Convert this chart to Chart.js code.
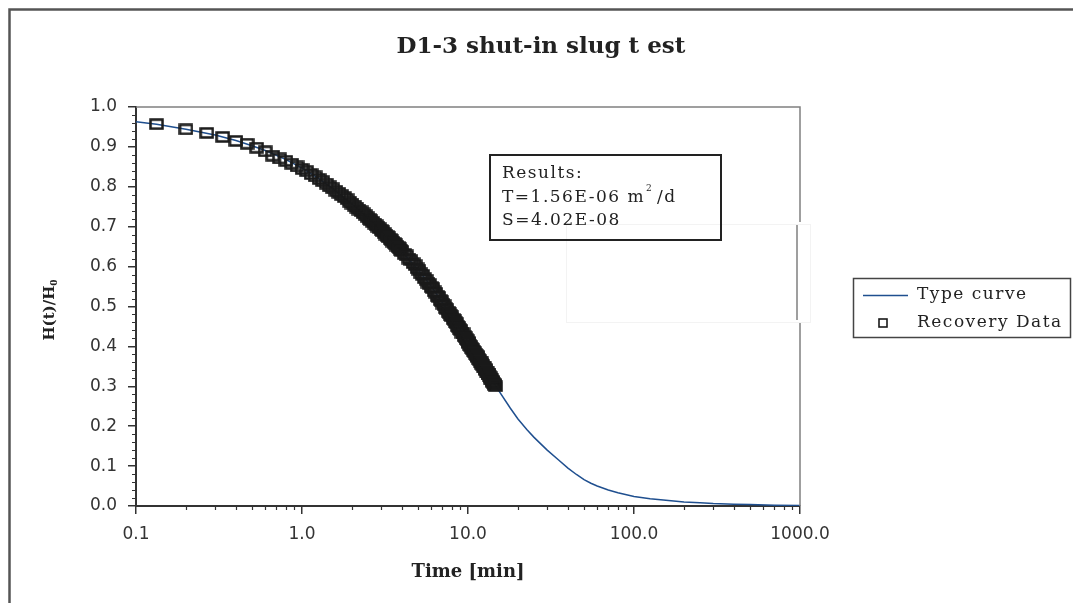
<!DOCTYPE html>
<html>
<head>
<meta charset="utf-8">
<script src="https://cdn.jsdelivr.net/npm/chart.js@4.4.0/dist/chart.umd.min.js"></script>
<style>
  body { margin: 0; background: #fff; }
  #wrap { width: 1073px; height: 603px; }
</style>
</head>
<body>
<div id="wrap"><canvas id="slugChart" width="1073" height="603"></canvas></div>
<script>
// slug test chart
const chartTitle = 'D1-3 shut-in slug t est';

// type curve (min, H/H0)
const curveTime = [0.1, 0.133, 0.2, 0.3, 0.4, 0.5, 0.6, 0.7, 0.8, 1, 1.25, 1.5, 2, 2.5, 3, 3.5, 4, 5, 6, 7, 8, 9, 10, 11, 12, 13, 14, 15, 18, 20, 22.6, 25, 30, 35, 40, 45, 50, 55, 60, 70, 80, 100, 125, 150, 200, 250, 300, 400, 500, 700, 1000];
const curveValue = [0.963, 0.957, 0.944, 0.93, 0.916, 0.903, 0.891, 0.879, 0.868, 0.847, 0.822, 0.798, 0.757, 0.722, 0.692, 0.664, 0.638, 0.592, 0.551, 0.51, 0.475, 0.442, 0.412, 0.385, 0.36, 0.337, 0.315, 0.295, 0.245, 0.218, 0.192, 0.172, 0.14, 0.116, 0.095, 0.079, 0.066, 0.057, 0.05, 0.04, 0.033, 0.024, 0.018, 0.015, 0.01, 0.008, 0.006, 0.0045, 0.0035, 0.002, 0.001];

// recovery data
const dataTime = [
  0.133, 0.2, 0.267, 0.333, 0.4, 0.467, 0.533, 0.6, 0.667, 0.733,
  0.8, 0.867, 0.933, 1.0, 1.067, 1.133, 1.2, 1.267, 1.333, 1.4,
  1.467, 1.533, 1.6, 1.667, 1.733, 1.8, 1.867, 1.933, 2.0, 2.067,
  2.133, 2.2, 2.267, 2.333, 2.4, 2.467, 2.533, 2.6, 2.667, 2.733,
  2.8, 2.867, 2.933, 3.0, 3.067, 3.133, 3.2, 3.267, 3.333, 3.4,
  3.467, 3.533, 3.6, 3.667, 3.733, 3.8, 3.867, 3.933, 4.0, 4.133,
  4.267, 4.4, 4.533, 4.667, 4.8, 4.933, 5.067, 5.2, 5.333, 5.467,
  5.6, 5.733, 5.867, 6.0, 6.133, 6.267, 6.4, 6.533, 6.667, 6.8,
  6.933, 7.067, 7.2, 7.333, 7.467, 7.6, 7.733, 7.867, 8.0, 8.133,
  8.267, 8.4, 8.533, 8.667, 8.8, 8.933, 9.067, 9.2, 9.333, 9.467,
  9.6, 9.733, 9.867, 10.0, 10.133, 10.267, 10.4, 10.533, 10.667, 10.8,
  10.933, 11.067, 11.2, 11.333, 11.467, 11.6, 11.733, 11.867, 12.0, 12.133,
  12.267, 12.4, 12.533, 12.667, 12.8, 12.933, 13.067, 13.2, 13.333, 13.467,
  13.6, 13.733, 13.867, 14.0, 14.133, 14.267, 14.4, 14.533, 14.667
];
const dataValue = [
  0.957, 0.944, 0.935, 0.925, 0.915, 0.908, 0.898, 0.889, 0.878, 0.871,
  0.865, 0.858, 0.851, 0.845, 0.839, 0.832, 0.826, 0.82, 0.814, 0.808,
  0.801, 0.796, 0.79, 0.785, 0.779, 0.774, 0.769, 0.763, 0.758, 0.753,
  0.748, 0.743, 0.739, 0.734, 0.73, 0.725, 0.72, 0.716, 0.712, 0.708,
  0.704, 0.7, 0.696, 0.692, 0.688, 0.684, 0.68, 0.677, 0.673, 0.669,
  0.666, 0.662, 0.659, 0.656, 0.652, 0.649, 0.646, 0.642, 0.639, 0.632,
  0.628, 0.62, 0.616, 0.609, 0.604, 0.596, 0.591, 0.583, 0.579, 0.571,
  0.567, 0.56, 0.556, 0.549, 0.546, 0.538, 0.534, 0.527, 0.524, 0.516,
  0.513, 0.507, 0.503, 0.496, 0.493, 0.487, 0.483, 0.478, 0.475, 0.469,
  0.467, 0.46, 0.458, 0.451, 0.449, 0.443, 0.441, 0.434, 0.433, 0.426,
  0.424, 0.418, 0.416, 0.411, 0.408, 0.403, 0.401, 0.396, 0.393, 0.389,
  0.386, 0.382, 0.379, 0.375, 0.373, 0.368, 0.366, 0.362, 0.36, 0.356,
  0.354, 0.349, 0.348, 0.343, 0.341, 0.337, 0.335, 0.331, 0.33, 0.325,
  0.323, 0.319, 0.318, 0.314, 0.312, 0.308, 0.306, 0.303, 0.3
];

const xTicks = [0.1, 1, 10, 100, 1000];
const yTicks = [0, 0.1, 0.2, 0.3, 0.4, 0.5, 0.6, 0.7, 0.8, 0.9, 1.0];
const resultLines = ['Results:', 'T=1.56E-06 m', 'S=4.02E-08'];
const legendLabels = ['Type curve', 'Recovery Data'];

const lineColor = '#1f4f8f';
const axisColor = '#333';

// open square marker
const square = document.createElement('canvas');
square.width = 15;
square.height = 12;
const sq = square.getContext('2d');
sq.strokeStyle = '#1a1a1a';
sq.lineWidth = 2.5;
sq.strokeRect(1.5, 1.5, 12, 9);

const extras = {
  id: 'extras',
  beforeDraw(chart) {
    const ctx = chart.ctx;
    ctx.save();
    ctx.fillStyle = '#fff';
    ctx.fillRect(0, 0, chart.width, chart.height);
    ctx.restore();
  },
  afterDraw(chart) {
    const ctx = chart.ctx;
    const a = chart.chartArea;
    const xs = chart.scales.x;
    const ys = chart.scales.y;
    ctx.save();

    // outer frame
    ctx.strokeStyle = '#555';
    ctx.lineWidth = 2.5;
    ctx.beginPath();
    ctx.moveTo(9.5, chart.height);
    ctx.lineTo(9.5, 9.5);
    ctx.lineTo(chart.width, 9.5);
    ctx.stroke();

    // title
    ctx.fillStyle = '#222';
    ctx.textAlign = 'center';
    ctx.textBaseline = 'middle';
    ctx.font = 'bold 23px "DejaVu Serif"';
    ctx.fillText(chartTitle, 541, 47);
    ctx.textAlign = 'left';

    // faint patch over the right border
    ctx.fillStyle = '#fff';
    ctx.fillRect(566, 224, 244, 98);
    ctx.strokeStyle = '#f3f3f3';
    ctx.lineWidth = 1;
    ctx.strokeRect(566.5, 224.5, 244, 98);

    // top and right border of plot
    ctx.strokeStyle = '#808080';
    ctx.lineWidth = 1.5;
    ctx.beginPath();
    ctx.moveTo(a.left, a.top);
    ctx.lineTo(a.right, a.top);
    ctx.lineTo(a.right, 222);
    ctx.moveTo(a.right - 3, 225);
    ctx.lineTo(a.right - 3, 320);
    ctx.moveTo(a.right, 323);
    ctx.lineTo(a.right, a.bottom);
    ctx.stroke();

    // minor ticks
    ctx.strokeStyle = axisColor;
    ctx.lineWidth = 1.2;
    ctx.beginPath();
    for (let i = 1; i < 50; i++) {
      if (i % 5 === 0) continue;
      const py = Math.round(ys.getPixelForValue(i / 50)) + 0.5;
      ctx.moveTo(a.left, py);
      ctx.lineTo(a.left - 4, py);
    }
    [0.1, 1, 10, 100].forEach(d => {
      for (let m = 2; m < 10; m++) {
        const px = Math.round(xs.getPixelForValue(d * m)) + 0.5;
        ctx.moveTo(px, a.bottom);
        ctx.lineTo(px, a.bottom + 4);
      }
    });
    ctx.stroke();

    // y axis title H(t)/H0
    ctx.save();
    ctx.translate(50, 310);
    ctx.rotate(-Math.PI / 2);
    ctx.fillStyle = '#222';
    ctx.textBaseline = 'middle';
    ctx.font = 'bold 15px "DejaVu Serif"';
    const w1 = ctx.measureText('H(t)/H').width;
    ctx.font = 'bold 9px "DejaVu Serif"';
    const w2 = ctx.measureText('0').width;
    const start = -(w1 + w2) / 2;
    ctx.font = 'bold 15px "DejaVu Serif"';
    ctx.fillText('H(t)/H', start, 0);
    ctx.font = 'bold 9px "DejaVu Serif"';
    ctx.fillText('0', start + w1, 5);
    ctx.restore();

    // results box
    ctx.strokeStyle = '#222';
    ctx.lineWidth = 2;
    ctx.strokeRect(490, 155, 231, 85);
    ctx.fillStyle = '#222';
    ctx.textBaseline = 'middle';
    ctx.letterSpacing = '1.5px';
    ctx.font = '17px "DejaVu Serif"';
    ctx.fillText(resultLines[0], 502, 174);
    ctx.fillText(resultLines[1], 502, 198);
    const mw = ctx.measureText(resultLines[1]).width;
    ctx.font = '9px "DejaVu Serif"';
    ctx.fillText('2', 502 + mw + 1, 189);
    ctx.font = '17px "DejaVu Serif"';
    ctx.fillText('/d', 502 + mw + 12, 198);
    ctx.fillText(resultLines[2], 502, 221);

    // legend
    ctx.strokeStyle = '#444';
    ctx.lineWidth = 1.5;
    ctx.strokeRect(853.5, 278.5, 217, 59);
    ctx.strokeStyle = lineColor;
    ctx.beginPath();
    ctx.moveTo(863, 295.5);
    ctx.lineTo(908, 295.5);
    ctx.stroke();
    ctx.strokeStyle = '#1a1a1a';
    ctx.lineWidth = 1.6;
    ctx.strokeRect(879, 319, 8, 8);
    ctx.fillStyle = '#222';
    ctx.fillText(legendLabels[0], 917, 295);
    ctx.fillText(legendLabels[1], 917, 323);

    ctx.restore();
  }
};

new Chart(document.getElementById('slugChart'), {
  type: 'scatter',
  data: {
    datasets: [
      {
        label: legendLabels[0],
        data: curveTime.map((t, i) => ({ x: t, y: curveValue[i] })),
        showLine: true,
        borderColor: lineColor,
        borderWidth: 1.5,
        pointRadius: 0,
        tension: 0,
        order: 2
      },
      {
        label: legendLabels[1],
        data: dataTime.map((t, i) => ({ x: t, y: dataValue[i] })),
        showLine: false,
        pointStyle: square,
        pointRadius: 5,
        order: 1
      }
    ]
  },
  options: {
    responsive: false,
    animation: false,
    layout: { padding: { left: 0, right: 273, top: 107, bottom: 0 } },
    plugins: {
      legend: { display: false },
      tooltip: { enabled: false },
      title: { display: false }
    },
    scales: {
      x: {
        type: 'logarithmic',
        min: 0.1,
        max: 1000,
        afterBuildTicks: s => { s.ticks = xTicks.map(v => ({ value: v })); },
        afterFit: s => { s.height = 97; },
        ticks: {
          callback: v => Number(v).toFixed(1),
          color: axisColor,
          font: { family: 'DejaVu Sans', size: 17 },
          padding: 10,
          maxRotation: 0,
          autoSkip: false
        },
        grid: { drawOnChartArea: false, tickLength: 8, color: axisColor, lineWidth: 1.5 },
        border: { color: axisColor, width: 2 },
        title: {
          display: true,
          text: 'Time [min]',
          color: '#222',
          font: { family: 'DejaVu Serif', size: 18, weight: 'bold' },
          padding: { top: 0, bottom: 20 }
        }
      },
      y: {
        min: 0,
        max: 1,
        afterBuildTicks: s => { s.ticks = yTicks.map(v => ({ value: v })); },
        afterFit: s => { s.width = 136; },
        ticks: {
          callback: v => Number(v).toFixed(1),
          color: axisColor,
          font: { family: 'DejaVu Sans', size: 17 },
          padding: 11
        },
        grid: { drawOnChartArea: false, tickLength: 8, color: axisColor, lineWidth: 1.5 },
        border: { color: axisColor, width: 2 }
      }
    }
  },
  plugins: [extras]
});
</script>
</body>
</html>
